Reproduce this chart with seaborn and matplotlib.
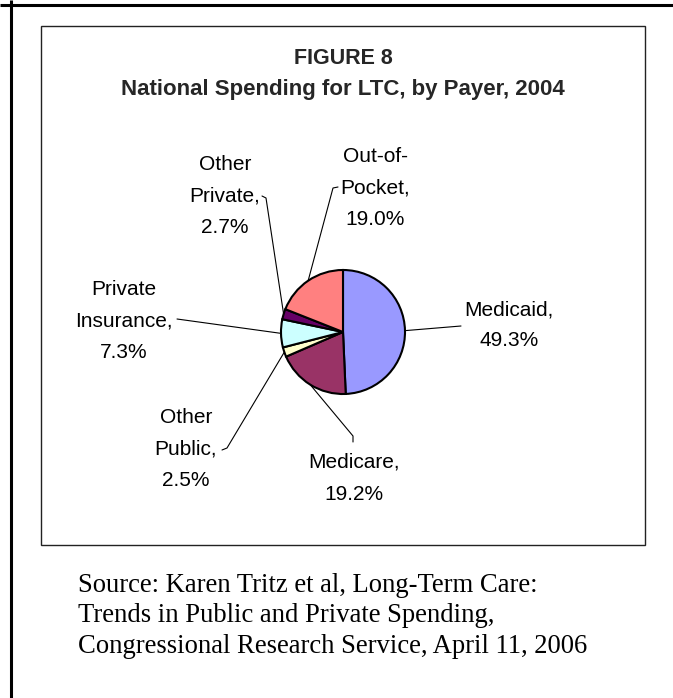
import matplotlib
matplotlib.use("Agg")
import matplotlib.pyplot as plt
from matplotlib.patches import Rectangle
import numpy as np
import seaborn as sns

# Shares of national long-term care spending by payer, 2004 (percent)
payers = ["Medicaid", "Medicare", "Other Public", "Private Insurance",
          "Other Private", "Out-of-Pocket"]
shares = [49.3, 19.2, 2.5, 7.3, 2.7, 19.0]
label_names = ["Medicaid,", "Medicare,", "Other\nPublic,", "Private\nInsurance,",
               "Other\nPrivate,", "Out-of-\nPocket,"]
slice_colors = ["#9999FF", "#993366", "#FFFFCC", "#CCFFFF", "#660066", "#FF8080"]

title_lines = ["FIGURE 8", "National Spending for LTC, by Payer, 2004"]
source_lines = ["Source: Karen Tritz et al, Long-Term Care:",
                "Trends in Public and Private Spending,",
                "Congressional Research Service, April 11, 2006"]

W, H = 673, 698
sns.set_theme(style="white")
plt.rcParams["font.family"] = ["Liberation Sans", "DejaVu Sans"]

fig = plt.figure(figsize=(W / 100, H / 100), dpi=100)
ax = fig.add_axes([0, 0, 1, 1])


def Y(y):
    """Convert a top-down pixel row into the axes' bottom-up coordinate."""
    return H - y


# Pie placement (pixels)
cx, cy, r = 343, 332, 62
palette = sns.color_palette(slice_colors)
wedges, _ = ax.pie(shares, colors=palette, startangle=90, counterclock=False,
                   center=(cx, Y(cy)), radius=r,
                   wedgeprops=dict(edgecolor="black", linewidth=1.5))
ax.set_xlim(0, W)
ax.set_ylim(0, H)
ax.set_aspect("auto")
ax.axis("off")

# Label placement: centre x, first baseline y, and leader path near the text
label_pos = [
    (509, 315), (354, 468), (186, 423), (124, 295), (225, 170), (375, 162)
]
leader_paths = [
    [(461, 326)],
    [(353, 436), (353, 442)],
    [(227, 448), (222, 450)],
    [(177, 319)],
    [(266, 198), (262, 196)],
    [(333, 188), (338, 187)],
]
line_gap = 31.5

for wedge, name, share, (lx, ly), path in zip(wedges, label_names, shares,
                                              label_pos, leader_paths):
    text = f"{name}\n{share:.1f}%"
    for i, line in enumerate(text.split("\n")):
        ax.text(lx, Y(ly + i * line_gap), line, ha="center", va="baseline",
                fontsize=15, color="black")
    mid = np.deg2rad((wedge.theta1 + wedge.theta2) / 2)
    ex, ey = wedge.center[0] + r * np.cos(mid), wedge.center[1] + r * np.sin(mid)
    xs = [ex] + [p[0] for p in path]
    ys = [ey] + [Y(p[1]) for p in path]
    ax.plot(xs, ys, color="black", lw=0.8, zorder=0.5)

# Title
ax.text(cx, Y(64), title_lines[0], ha="center", va="baseline",
        fontsize=15.5, fontweight="bold")
ax.text(cx, Y(95), title_lines[1], ha="center", va="baseline",
        fontsize=16, fontweight="bold")

# Chart frame and page border
ax.add_patch(Rectangle((41, Y(545)), 645 - 41, 545 - 26, fill=False,
                       edgecolor="#222222", lw=1.0))
ax.plot([0, W], [Y(5), Y(5)], color="black", lw=2.2, solid_capstyle="butt")
ax.plot([11, 11], [0, H], color="black", lw=2.2, solid_capstyle="butt")

# Source note
for i, line in enumerate(source_lines):
    ax.text(78, Y(592 + i * 30.5), line, ha="left", va="baseline",
            fontsize=19.2, family="Liberation Serif", color="black")

fig.savefig("out.png", dpi=100)
